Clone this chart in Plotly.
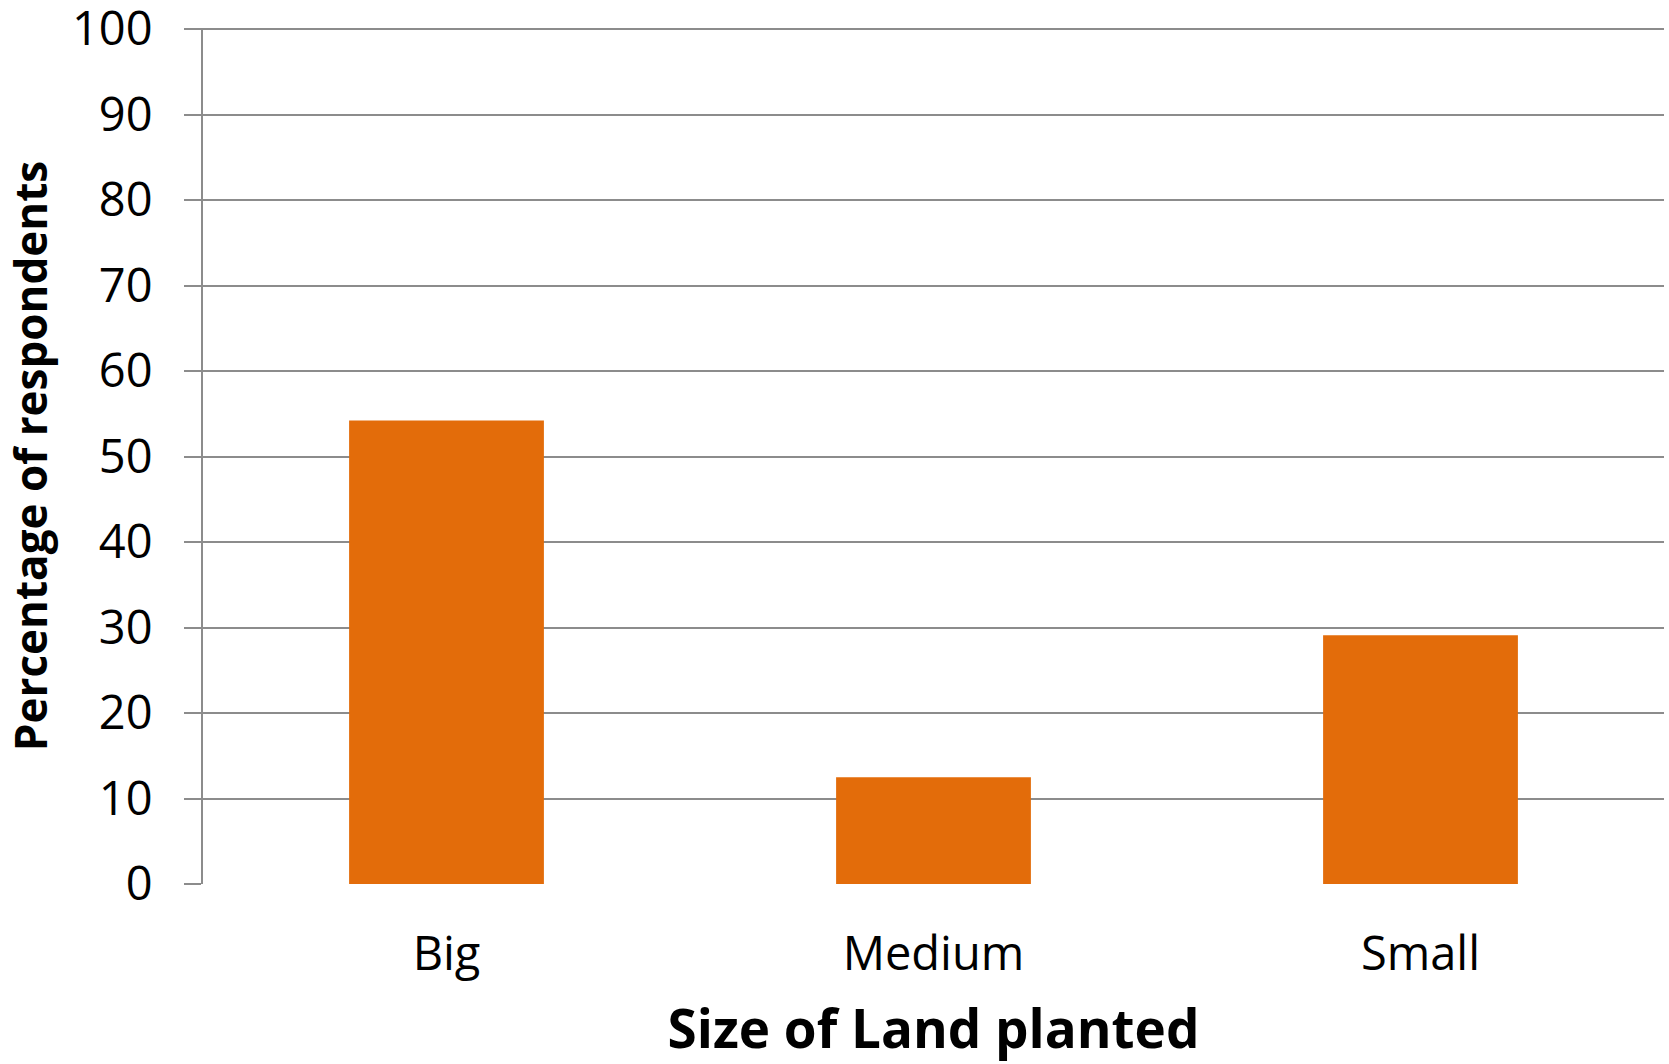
import plotly.graph_objects as go

# Share of respondents by size of land planted
categories = ["Big", "Medium", "Small"]
percentages = [54.2, 12.5, 29.1]
y_ticks = [0, 10, 20, 30, 40, 50, 60, 70, 80, 90, 100]

BAR_COLOR = "#E36C0A"
GRID_COLOR = "#8C8C8C"
FONT = "Open Sans"

fig = go.Figure(
    go.Bar(
        x=categories,
        y=percentages,
        marker=dict(color=BAR_COLOR, line=dict(width=0)),
        width=0.4,
    )
)

fig.update_layout(
    width=1669,
    height=1064,
    margin=dict(l=203, r=5, t=28, b=180),
    plot_bgcolor="white",
    paper_bgcolor="white",
    showlegend=False,
    font=dict(family=FONT, color="black"),
)

fig.update_xaxes(
    showgrid=False,
    showline=False,
    ticks="",
    tickfont=dict(size=47, family=FONT),
    ticklabelstandoff=38,
    title=dict(
        text="<b>Size of Land planted</b>",
        font=dict(size=53, family=FONT),
        standoff=36,
    ),
)

fig.update_yaxes(
    range=[0, 100.12],
    tickvals=y_ticks,
    showgrid=True,
    gridcolor=GRID_COLOR,
    gridwidth=2,
    showline=True,
    linecolor=GRID_COLOR,
    linewidth=2,
    ticks="outside",
    ticklen=17,
    tickwidth=2,
    tickcolor=GRID_COLOR,
    tickfont=dict(size=47, family=FONT),
    ticklabelstandoff=22,
    ticklabeloverflow="allow",
    automargin="left",
    zeroline=False,
    title=dict(
        text="<b>Percentage of respondents</b>",
        font=dict(size=44, family=FONT),
        standoff=22,
    ),
)

fig.write_html("out.html")
